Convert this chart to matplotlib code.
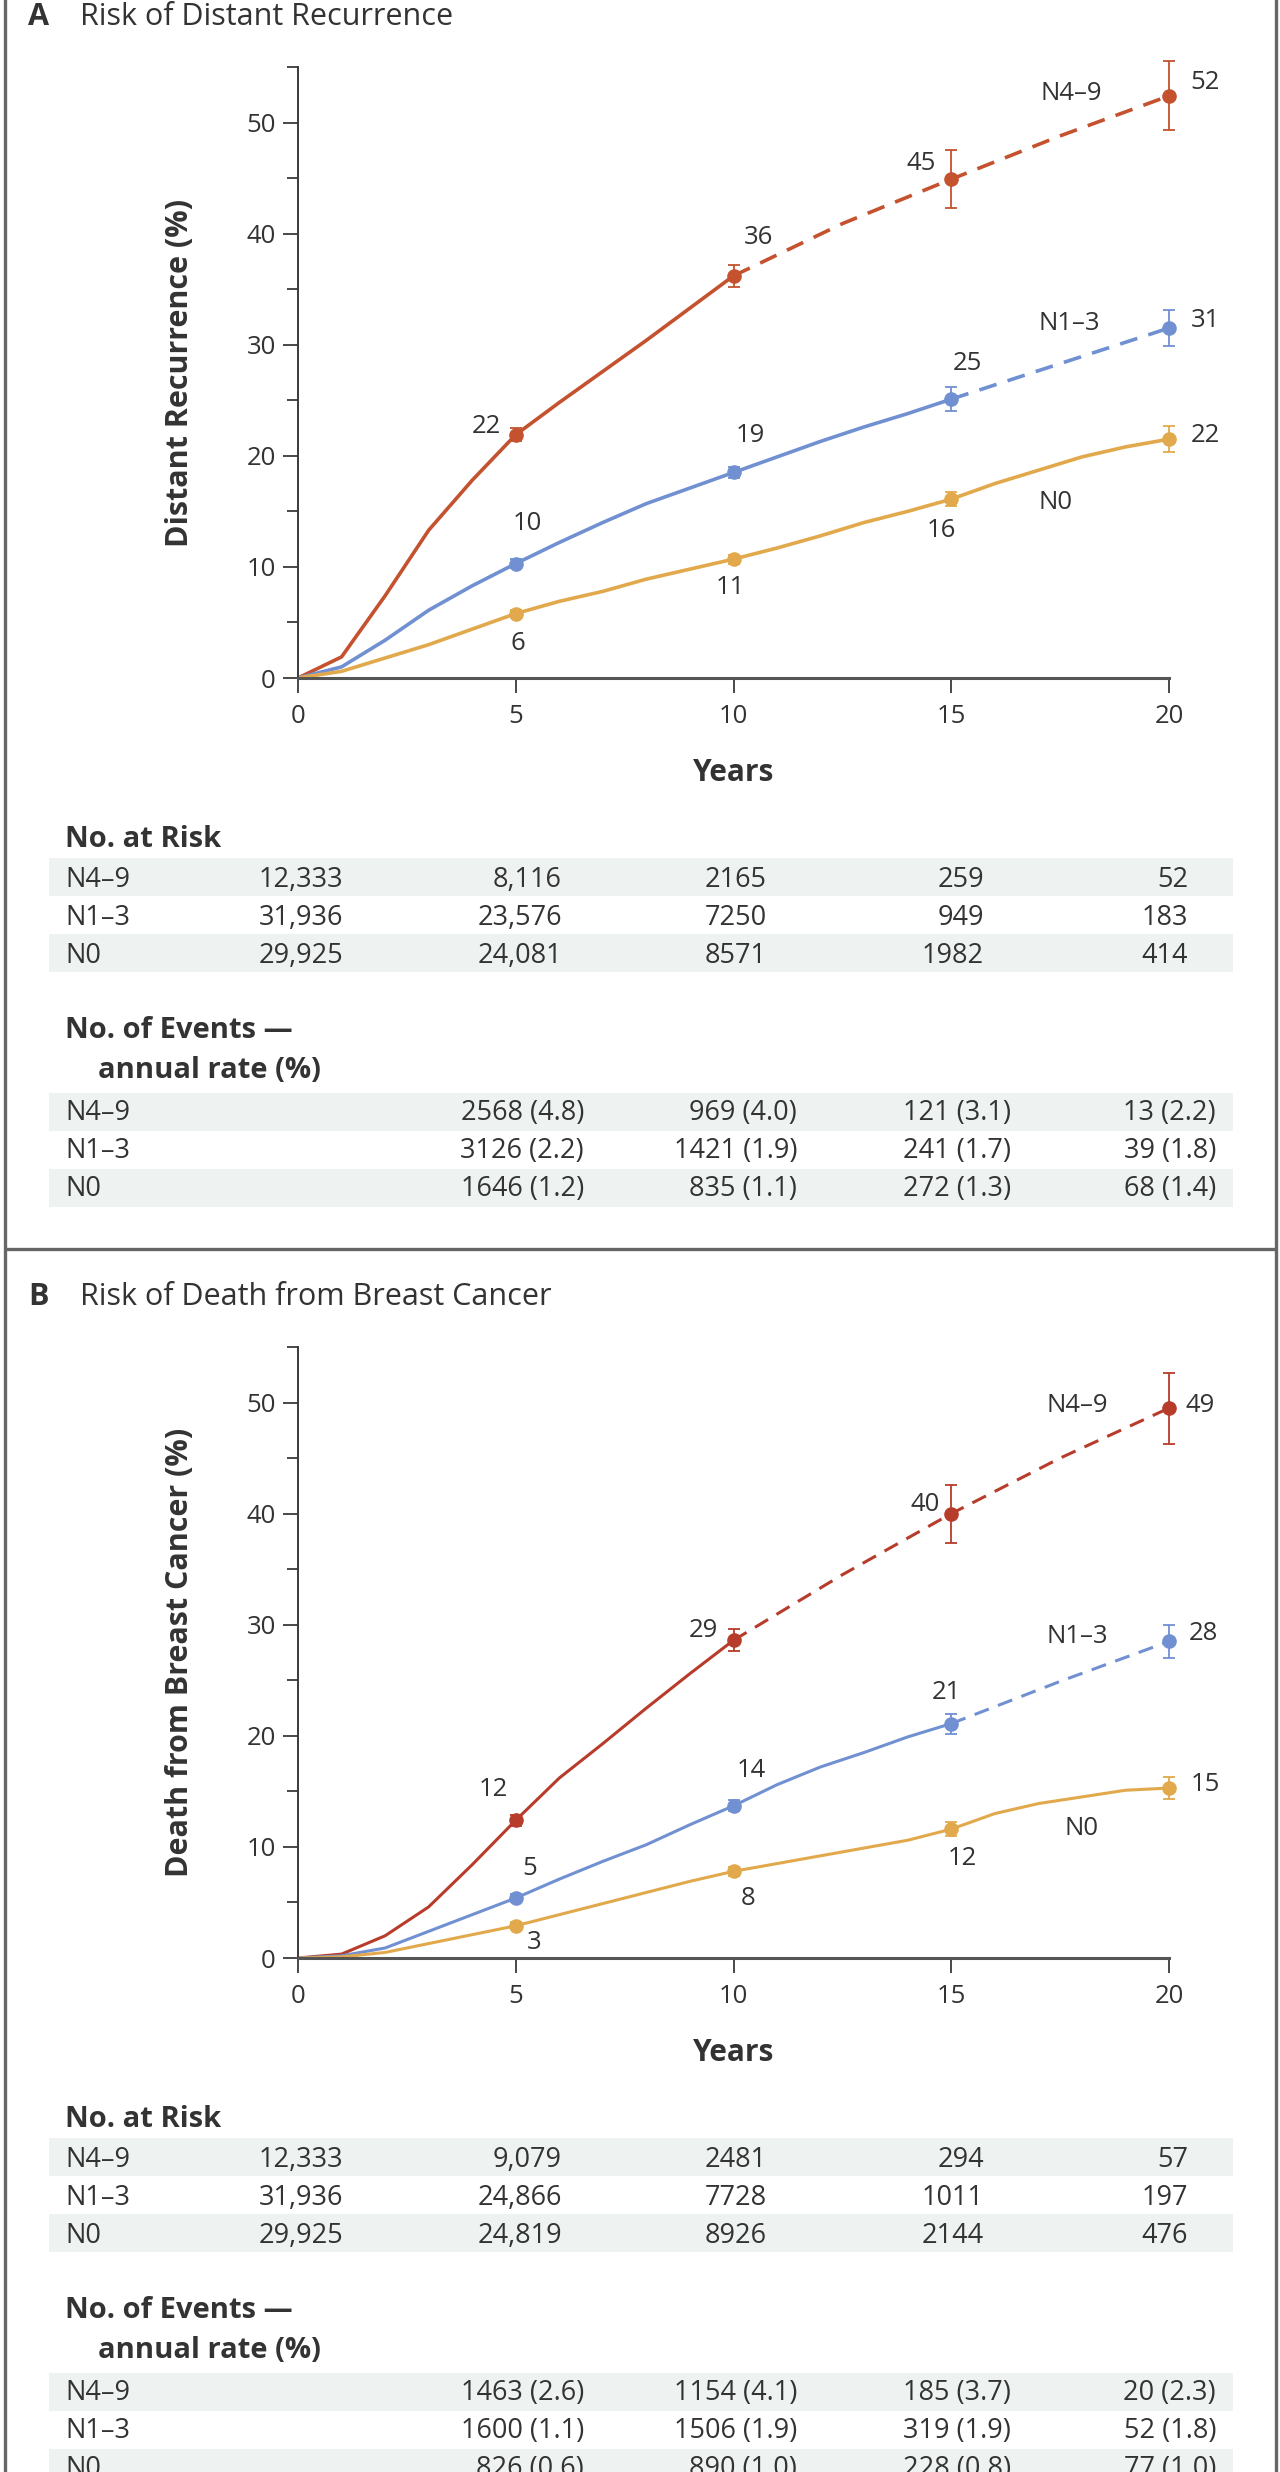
import matplotlib
matplotlib.use("Agg")
import matplotlib.pyplot as plt
from matplotlib.ticker import FixedLocator
from matplotlib.patches import Rectangle

plt.rcParams['font.family'] = ['Open Sans', 'DejaVu Sans']

# ---------------- data ----------------
groups = ['N4–9', 'N1–3', 'N0']
mark_yrs = [5, 10, 15, 20]

# A: distant recurrence (%)
a_n49_x = [0, 1, 2, 3, 4, 5, 6, 7, 8, 9, 10]
a_n49 = [0, 1.9, 7.4, 13.3, 17.8, 21.9, 24.8, 27.6, 30.4, 33.3, 36.2]
a_n49_fx = [10, 12.5, 15, 17.5, 20]
a_n49_f = [36.2, 40.9, 44.9, 48.8, 52.4]
a_n13_x = list(range(0, 16))
a_n13 = [0, 1.0, 3.4, 6.1, 8.3, 10.3, 12.2, 14.0, 15.7, 17.1, 18.5, 19.9, 21.3, 22.6, 23.8, 25.1]
a_n13_fx = [15, 17.5, 20]
a_n13_f = [25.1, 28.3, 31.5]
a_n0_x = list(range(0, 21))
a_n0 = [0, 0.6, 1.8, 3.0, 4.4, 5.8, 6.9, 7.8, 8.9, 9.8, 10.7, 11.7, 12.8, 14.0, 15.0,
        16.1, 17.5, 18.7, 19.9, 20.8, 21.5]
a_n49_mk = [21.9, 36.2, 44.9, 52.4]
a_n13_mk = [10.3, 18.5, 25.1, 31.5]
a_n0_mk = [5.8, 10.7, 16.1, 21.5]
a_n49_err = [0.6, 1.0, 2.6, 3.1]
a_n13_err = [0.4, 0.5, 1.1, 1.6]
a_n0_err = [0.3, 0.4, 0.6, 1.2]
a_n49_lab = ['22', '36', '45', '52']
a_n13_lab = ['10', '19', '25', '31']
a_n0_lab = ['6', '11', '16', '22']

a_risk_n49 = ['12,333', '8,116', '2165', '259', '52']
a_risk_n13 = ['31,936', '23,576', '7250', '949', '183']
a_risk_n0 = ['29,925', '24,081', '8571', '1982', '414']
a_ev_n49 = ['2568 (4.8)', '969 (4.0)', '121 (3.1)', '13 (2.2)']
a_ev_n13 = ['3126 (2.2)', '1421 (1.9)', '241 (1.7)', '39 (1.8)']
a_ev_n0 = ['1646 (1.2)', '835 (1.1)', '272 (1.3)', '68 (1.4)']

# B: death from breast cancer (%)
b_n49_x = [0, 1, 2, 3, 4, 5, 6, 7, 8, 9, 10]
b_n49 = [0, 0.35, 2.0, 4.6, 8.4, 12.4, 16.2, 19.3, 22.5, 25.6, 28.6]
b_n49_fx = [10, 12.5, 15, 17.5, 20]
b_n49_f = [28.6, 34.5, 40.0, 45.0, 49.5]
b_n13_x = list(range(0, 16))
b_n13 = [0, 0.2, 0.9, 2.4, 3.9, 5.4, 7.1, 8.7, 10.2, 12.0, 13.7, 15.6, 17.2, 18.5, 19.9, 21.1]
b_n13_fx = [15, 17.5, 20]
b_n13_f = [21.1, 24.9, 28.5]
b_n0_x = list(range(0, 21))
b_n0 = [0, 0.1, 0.5, 1.3, 2.1, 2.9, 3.9, 4.9, 5.9, 6.9, 7.8, 8.5, 9.2, 9.9, 10.6,
        11.6, 13.0, 13.9, 14.5, 15.1, 15.3]
b_n49_mk = [12.4, 28.6, 40.0, 49.5]
b_n13_mk = [5.4, 13.7, 21.1, 28.5]
b_n0_mk = [2.9, 7.8, 11.6, 15.3]
b_n49_err = [0.5, 1.0, 2.6, 3.2]
b_n13_err = [0.4, 0.5, 0.9, 1.5]
b_n0_err = [0.3, 0.4, 0.6, 1.0]
b_n49_lab = ['12', '29', '40', '49']
b_n13_lab = ['5', '14', '21', '28']
b_n0_lab = ['3', '8', '12', '15']

b_risk_n49 = ['12,333', '9,079', '2481', '294', '57']
b_risk_n13 = ['31,936', '24,866', '7728', '1011', '197']
b_risk_n0 = ['29,925', '24,819', '8926', '2144', '476']
b_ev_n49 = ['1463 (2.6)', '1154 (4.1)', '185 (3.7)', '20 (2.3)']
b_ev_n13 = ['1600 (1.1)', '1506 (1.9)', '319 (1.9)', '52 (1.8)']
b_ev_n0 = ['826 (0.6)', '890 (1.0)', '228 (0.8)', '77 (1.0)']

# ---------------- layout / style ----------------
W, H = 1280, 2472
TXT = '#333333'
BLUE = '#7090d2'
YEL = '#e2a94c'
BAND = '#eef3f1'
FRAME = '#666666'
FS = 18.5      # ticks and point labels
TFS = 19.5     # table numbers
HFS = 21       # bold table headers

# label offsets in pixels (dx, dy up)
a_off = [[(-29, 8), (25, 38), (-30, 16), (36, 13)],
         [(12, 40), (17, 37), (16, 36), (36, 8)],
         [(2, -30), (-3, -28), (-10, -31), (36, 4)]]
b_off = [[(-22, 31), (-30, 10), (-26, 9), (31, 3)],
         [(14, 30), (18, 35), (-5, 31), (34, 8)],
         [(18, -17), (15, -27), (11, -29), (36, 4)]]
a_names = [(17.75, 52.6), (17.7, 31.9), (17.4, 15.8)]
b_names = [(17.9, 49.7), (17.9, 28.9), (18.0, 11.7)]

risk_x = [343, 562, 767, 984, 1188]
ev_x = [584, 797, 1011, 1216]

fig = plt.figure(figsize=(W / 100, H / 100), dpi=100)
bg = fig.add_axes([0, 0, 1, 1])
bg.set_xlim(0, W)
bg.set_ylim(H, 0)
bg.axis('off')


def rect(x0, yt, x1, yb):
    return [x0 / W, 1 - yb / H, (x1 - x0) / W, (yb - yt) / H]


def panel(dy, letter, title, ylabel, red, lw, curves, marks, errs, labs, offs, names, risk, events):
    # title
    bg.text(28, 25 + dy, letter, fontsize=22, fontweight='bold', color=TXT, va='baseline')
    bg.text(80, 25 + dy, title, fontsize=22, color=TXT, va='baseline')

    ax = fig.add_axes(rect(298, 67 + dy, 1169, 678 + dy))
    ax.patch.set_alpha(0)
    ax.set_xlim(0, 20)
    ax.set_ylim(0, 55)
    for s in ['top', 'right']:
        ax.spines[s].set_visible(False)
    ax.spines['left'].set_color('#3a3a3a')
    ax.spines['left'].set_linewidth(1.4)
    ax.spines['bottom'].set_color('#555555')
    ax.spines['bottom'].set_linewidth(2.2)
    ax.set_xticks([0, 5, 10, 15, 20])
    ax.yaxis.set_major_locator(FixedLocator([0, 10, 20, 30, 40, 50]))
    ax.yaxis.set_minor_locator(FixedLocator([5, 15, 25, 35, 45, 55]))
    ax.tick_params(which='major', length=11, width=1.3, color='#3a3a3a',
                   labelsize=FS, labelcolor=TXT)
    ax.tick_params(axis='y', which='minor', length=8, width=1.3, color='#3a3a3a')
    ax.tick_params(axis='y', pad=5)
    ax.tick_params(axis='x', pad=8)
    ax.set_xlabel('Years', fontsize=21.5, fontweight='bold', color=TXT)
    ax.xaxis.set_label_coords(0.5, -0.1555)
    ax.xaxis.label.set_va('center')
    ax.set_ylabel(ylabel, fontsize=22, fontweight='bold', color=TXT)
    ax.yaxis.set_label_coords(-0.136, 0.5)
    ax.yaxis.label.set_va('center')

    colors = [red, BLUE, YEL]
    for i, c in enumerate(colors):
        xs, ys, fx, fy = curves[i]
        ax.plot(xs, ys, color=c, lw=lw, solid_joinstyle='round', zorder=2)
        if fx is not None:
            ax.plot(fx, fy, color=c, lw=lw, dashes=(5, 3.2), zorder=2, clip_on=False)
        eb = ax.errorbar(mark_yrs, marks[i], yerr=errs[i], fmt='o', color=c, ms=9.5,
                         elinewidth=1.3, capsize=4, capthick=1.3, zorder=3)
        for art in eb.lines[0:1] + tuple(eb.lines[1]) + tuple(eb.lines[2]):
            art.set_clip_on(False)
        for j, lab in enumerate(labs[i]):
            ax.annotate(lab, (mark_yrs[j], marks[i][j]), xytext=offs[i][j],
                        textcoords='offset pixels', ha='center', va='center',
                        fontsize=FS, color=TXT, annotation_clip=False)
        ax.text(names[i][0], names[i][1], groups[i], ha='center', va='center',
                fontsize=FS, color=TXT)

    # tables
    bg.text(65, 847 + dy, 'No. at Risk', fontsize=HFS, fontweight='bold', color=TXT, va='baseline')
    for k, yb in enumerate([887, 925, 963]):
        if k != 1:
            bg.add_patch(Rectangle((49, yb - 29 + dy), 1184, 38, color=BAND, lw=0, zorder=0))
        bg.text(65, yb + dy, groups[k], fontsize=TFS, color=TXT, va='baseline')
        for j, v in enumerate(risk[k]):
            bg.text(risk_x[j], yb + dy, v, fontsize=TFS, color=TXT, va='baseline', ha='right')
    bg.text(65, 1038 + dy, 'No. of Events —', fontsize=HFS, fontweight='bold', color=TXT, va='baseline')
    bg.text(98, 1078 + dy, 'annual rate (%)', fontsize=HFS, fontweight='bold', color=TXT, va='baseline')
    for k, yb in enumerate([1120, 1158, 1196]):
        if k != 1:
            bg.add_patch(Rectangle((49, yb - 27 + dy), 1184, 38, color=BAND, lw=0, zorder=0))
        bg.text(65, yb + dy, groups[k], fontsize=TFS, color=TXT, va='baseline')
        for j, v in enumerate(events[k]):
            bg.text(ev_x[j], yb + dy, v, fontsize=TFS, color=TXT, va='baseline', ha='right')


panel(0, 'A', 'Risk of Distant Recurrence', 'Distant Recurrence (%)', '#c4522f', 2.6,
      [(a_n49_x, a_n49, a_n49_fx, a_n49_f), (a_n13_x, a_n13, a_n13_fx, a_n13_f),
       (a_n0_x, a_n0, None, None)],
      [a_n49_mk, a_n13_mk, a_n0_mk], [a_n49_err, a_n13_err, a_n0_err],
      [a_n49_lab, a_n13_lab, a_n0_lab], a_off, a_names,
      [a_risk_n49, a_risk_n13, a_risk_n0], [a_ev_n49, a_ev_n13, a_ev_n0])

panel(1280, 'B', 'Risk of Death from Breast Cancer', 'Death from Breast Cancer (%)', '#b83c2b', 2.2,
      [(b_n49_x, b_n49, b_n49_fx, b_n49_f), (b_n13_x, b_n13, b_n13_fx, b_n13_f),
       (b_n0_x, b_n0, None, None)],
      [b_n49_mk, b_n13_mk, b_n0_mk], [b_n49_err, b_n13_err, b_n0_err],
      [b_n49_lab, b_n13_lab, b_n0_lab], b_off, b_names,
      [b_risk_n49, b_risk_n13, b_risk_n0], [b_ev_n49, b_ev_n13, b_ev_n0])

# panel frames
fr = dict(color=FRAME, lw=2.4, solid_capstyle='butt')
bg.plot([5, 5], [-40, H + 40], **fr)
bg.plot([1276, 1276], [-40, H + 40], **fr)
bg.plot([5, 1276], [1249, 1249], **fr)

fig.savefig('out.png', dpi=100)
